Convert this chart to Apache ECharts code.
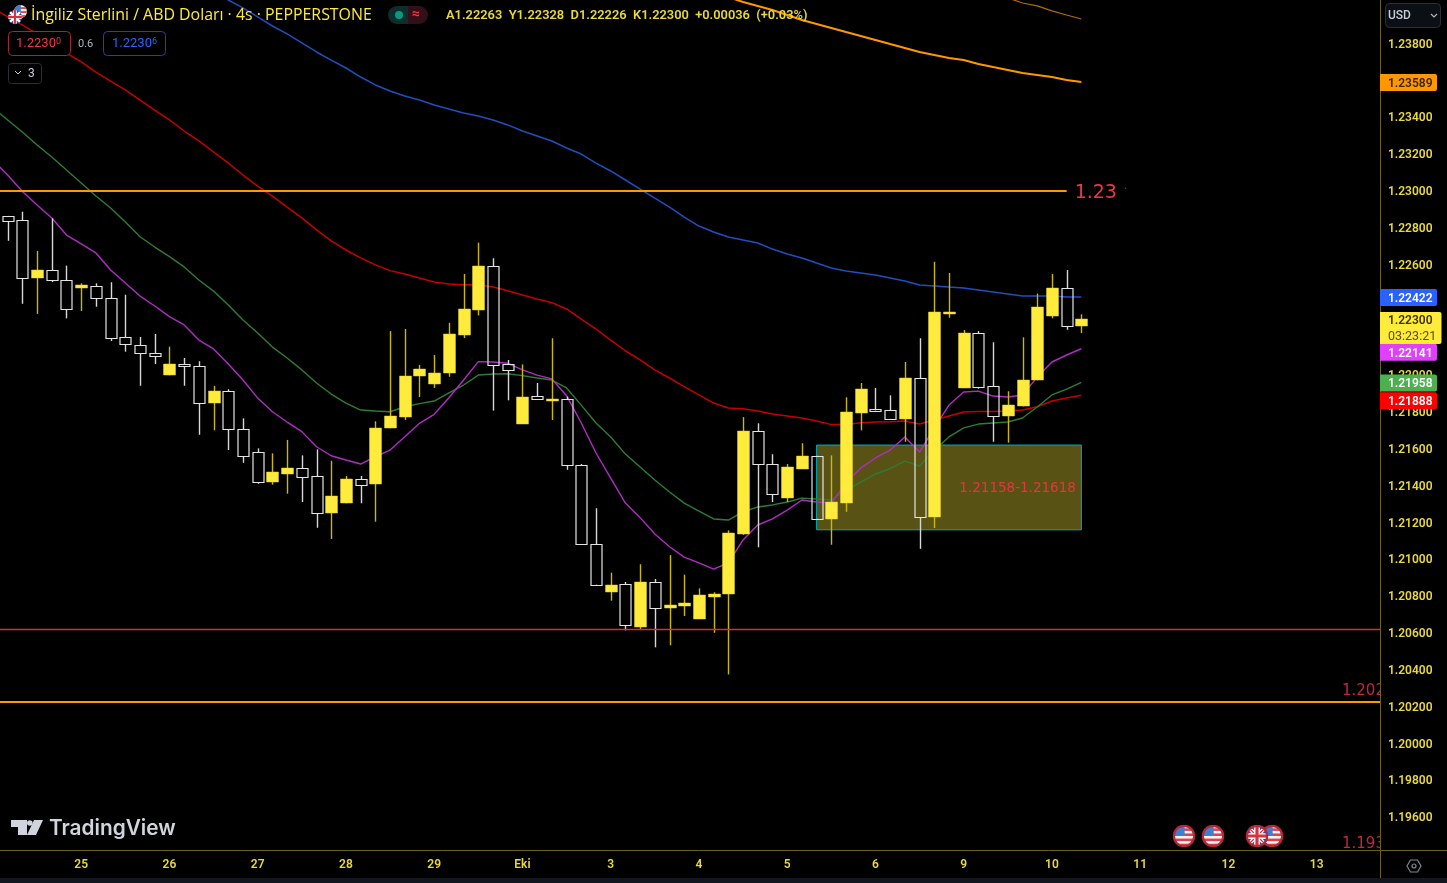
<!DOCTYPE html>
<html>
<head>
<meta charset="utf-8">
<title>GBPUSD 4s</title>
<script src="https://cdn.jsdelivr.net/npm/echarts@6/dist/echarts.min.js"></script>
<style>
  html, body { margin: 0; padding: 0; background: #000; overflow: hidden; }
  #main { width: 1447px; height: 883px; }
</style>
</head>
<body>
<div id="main"></div>
<script>
// candles, oldest first
const opens = [1.22862,1.22838,1.22527,1.22568,1.22512,1.22469,1.22483,1.22416,1.22203,1.22163,1.22118,1.21997,1.22056,1.22049,1.21845,1.2191,1.21705,1.21582,1.21416,1.21461,1.21492,1.21448,1.21248,1.21303,1.21435,1.21405,1.21709,1.2177,1.21991,1.21951,1.22008,1.22216,1.22351,1.2259,1.22056,1.21732,1.21883,1.21861,1.2187,1.21508,1.21081,1.20819,1.20862,1.20632,1.20873,1.20735,1.20744,1.20674,1.20795,1.20809,1.21135,1.21694,1.21515,1.21331,1.2149,1.2156,1.21218,1.21303,1.21794,1.21814,1.21807,1.2176,1.21982,1.21226,1.2233,1.21929,1.22225,1.21937,1.21777,1.21828,1.2197,1.22319,1.22472,1.22263]
const closes = [1.22836,1.22527,1.22568,1.22514,1.22358,1.22485,1.22415,1.22201,1.22167,1.22116,1.221,1.22056,1.22049,1.21845,1.2191,1.21705,1.21559,1.21416,1.2147,1.21493,1.21445,1.21248,1.21341,1.21435,1.21401,1.21713,1.21774,1.21995,1.22033,1.22011,1.22219,1.22355,1.22592,1.22054,1.22026,1.21881,1.21866,1.2187,1.21508,1.21081,1.2086,1.20857,1.2064,1.20873,1.20735,1.2075,1.20761,1.20804,1.20811,1.21139,1.21696,1.21514,1.21351,1.21499,1.2156,1.21218,1.21307,1.21798,1.21921,1.21805,1.2176,1.21984,1.21226,1.22339,1.22339,1.22225,1.21935,1.21777,1.21836,1.21971,1.22366,1.22472,1.22263,1.223]
const lows = [1.22727,1.22385,1.2233,1.22503,1.22306,1.22346,1.22369,1.22183,1.22125,1.2194,1.22058,1.21997,1.2194,1.21674,1.21698,1.21591,1.21522,1.21408,1.21403,1.21354,1.21309,1.21169,1.21108,1.21302,1.21302,1.21202,1.21709,1.21754,1.21879,1.21928,1.21989,1.22199,1.22322,1.21805,1.21861,1.21732,1.21866,1.21754,1.21484,1.21081,1.2086,1.20773,1.20612,1.20619,1.2052,1.20531,1.2069,1.20674,1.20599,1.20373,1.2113,1.21063,1.21309,1.21309,1.2149,1.21218,1.21077,1.21256,1.21698,1.21805,1.2176,1.21636,1.21055,1.21168,1.22309,1.21929,1.21924,1.21636,1.21631,1.21828,1.2197,1.22306,1.22244,1.22226]
const highs = [1.22862,1.22885,1.22672,1.22849,1.22592,1.22496,1.22496,1.22502,1.22434,1.22205,1.22221,1.22152,1.22091,1.22073,1.21939,1.21921,1.21763,1.216,1.21573,1.21646,1.21562,1.21595,1.21533,1.2145,1.2145,1.21747,1.22237,1.22248,1.22053,1.22107,1.22282,1.22547,1.22717,1.22632,1.2208,1.22056,1.21955,1.22198,1.21881,1.21515,1.21275,1.20925,1.20875,1.20971,1.20891,1.21021,1.20914,1.2084,1.20819,1.21155,1.2177,1.21736,1.21568,1.21515,1.21628,1.2156,1.21562,1.21877,1.21955,1.21928,1.21888,1.22069,1.22198,1.22613,1.22552,1.22243,1.22237,1.22176,1.2191,1.22203,1.2244,1.22547,1.22568,1.22328]

// moving averages; first value belongs to the bar just left of the screen
const emaPurple = [1.23166,1.23084,1.22995,1.22921,1.22851,1.22758,1.2271,1.22661,1.22568,1.22498,1.22427,1.22373,1.22315,1.2227,1.22188,1.2214,1.22058,1.21971,1.21873,1.21799,1.21743,1.21691,1.21609,1.2156,1.21537,1.21515,1.21555,1.21591,1.21663,1.21736,1.21785,1.21875,1.21971,1.22071,1.22069,1.22062,1.22026,1.21998,1.21977,1.21886,1.21738,1.21575,1.21439,1.21303,1.21224,1.21135,1.21066,1.2101,1.20978,1.20945,1.20978,1.21103,1.21184,1.21217,1.21265,1.2132,1.21309,1.21303,1.21412,1.21493,1.21548,1.21591,1.21662,1.2158,1.21711,1.21835,1.21906,1.21911,1.21884,1.21879,1.2189,1.21987,1.22069,1.22107,1.22141]
const emaGreen = [1.23448,1.23383,1.23318,1.23247,1.23182,1.23111,1.23041,1.2297,1.22905,1.22829,1.22749,1.22693,1.22641,1.22585,1.22514,1.22454,1.22378,1.22297,1.22226,1.2215,1.22091,1.22026,1.21955,1.21895,1.21846,1.21808,1.21803,1.21799,1.21826,1.21843,1.21857,1.21901,1.21944,1.21998,1.22004,1.22005,1.21995,1.21982,1.21971,1.21928,1.21835,1.21738,1.21662,1.21569,1.21499,1.21428,1.21363,1.21303,1.2126,1.21217,1.21211,1.21255,1.21282,1.21293,1.21309,1.2133,1.21325,1.2132,1.21374,1.21417,1.21461,1.2149,1.21531,1.21504,1.21591,1.21662,1.21711,1.21732,1.21738,1.21743,1.21765,1.21825,1.2189,1.21922,1.21958]
const emaRed = [1.23991,1.23942,1.23899,1.2385,1.23801,1.23746,1.23698,1.23643,1.23594,1.23546,1.23491,1.23437,1.23383,1.23323,1.23269,1.23209,1.23149,1.23084,1.23024,1.2297,1.2291,1.22851,1.22786,1.22726,1.22677,1.22634,1.22596,1.22565,1.22547,1.22525,1.22503,1.22492,1.22489,1.22489,1.22476,1.22456,1.22433,1.22411,1.22391,1.22357,1.22302,1.22248,1.22188,1.2213,1.2208,1.22026,1.21982,1.21935,1.2189,1.21846,1.21819,1.21815,1.21803,1.21787,1.21776,1.21765,1.21749,1.21729,1.21729,1.21739,1.21743,1.21745,1.21749,1.21732,1.21754,1.21776,1.21798,1.218,1.218,1.21803,1.21808,1.21826,1.21857,1.21873,1.21888]
const emaBlue = [null,null,null,null,null,null,null,null,null,null,null,null,null,null,null,1.24083,1.24034,1.23991,1.23942,1.23893,1.2385,1.23801,1.23752,1.23708,1.23665,1.23616,1.23573,1.2354,1.23513,1.23491,1.23464,1.23442,1.23421,1.23404,1.23383,1.23356,1.23323,1.23296,1.23269,1.23231,1.23198,1.23149,1.23106,1.23057,1.23008,1.22959,1.2291,1.22856,1.22807,1.22775,1.22748,1.22731,1.22715,1.22682,1.22655,1.22634,1.22606,1.22579,1.22563,1.22552,1.22541,1.22525,1.22509,1.22487,1.22482,1.22476,1.22471,1.2246,1.22449,1.22438,1.22427,1.22427,1.22427,1.22422,1.22422]
const emaOrangeTail = [1.2405,1.24023,1.24002,1.2398,1.23953,1.23926,1.23904,1.23882,1.2386,1.23839,1.23817,1.23795,1.23774,1.23752,1.23736,1.23719,1.23708,1.23687,1.2367,1.23654,1.23638,1.23627,1.23616,1.236,1.23589]
const emaDarkOrangeTail = [1.24045,1.24018,1.24002,1.23975,1.23953,1.23931]

const dayLabels = ['25','26','27','28','29','Eki','3','4','5','6','9','10','11','12','13']
const yTicks = [1.196,1.198,1.2,1.202,1.204,1.206,1.208,1.21,1.212,1.214,1.216,1.218,1.22,1.222,1.224,1.226,1.228,1.23,1.232,1.234,1.236,1.238]

// drawn levels and the zone
const levelTop = 1.23
const levelSupport = 1.20617
const levelBottom = 1.20225
const zoneHigh = 1.21618
const zoneLow = 1.21158

// price tags on the axis
const tagValues = [1.23589, 1.22422, 1.22141, 1.21958, 1.21888]
const tagColors = ['#ff9800', '#2962ff', '#e040fb', '#4caf50', '#ff0000']
const lastPrice = 1.223

const BAR_COUNT = 96
const YELLOW = '#ffeb3b'
const TEXT = '#e8d83a'
const AXIS = '#6e6118'
const RED_TEXT = '#f23645'

// one empty bar at the start so the averages run off the left edge
const categories = []
for (let i = 0; i < BAR_COUNT; i++) categories.push('')
dayLabels.forEach((d, k) => { categories[6 + k * 6] = d })

const candleData = opens.map((o, i) => [i + 1, o, closes[i], lows[i], highs[i]])
const padTo = (tail, total) => new Array(total - tail.length).fill(null).concat(tail)

function renderCandle (params, api) {
  const idx = api.value(0)
  const o = api.value(1), c = api.value(2)
  const up = c >= o
  const x = Math.round(api.coord([idx, o])[0])
  const top = Math.round(api.coord([idx, Math.max(o, c)])[1])
  const bot = Math.round(api.coord([idx, Math.min(o, c)])[1])
  const hi = api.coord([idx, api.value(4)])[1]
  const lo = api.coord([idx, api.value(3)])[1]
  const wick = up ? '#cdb800' : '#d8d8d8'
  const body = up
    ? { x: x - 5.5, y: top, width: 12, height: Math.max(bot - top, 2) }
    : { x: x - 5, y: top + 0.5, width: 11, height: Math.max(bot - top, 1) }
  return {
    type: 'group',
    children: [
      { type: 'line', shape: { x1: x + 0.5, y1: hi, x2: x + 0.5, y2: top }, style: { stroke: wick, lineWidth: 1.4 } },
      { type: 'line', shape: { x1: x + 0.5, y1: bot, x2: x + 0.5, y2: lo }, style: { stroke: wick, lineWidth: 1.4 } },
      {
        type: 'rect',
        shape: body,
        style: up ? { fill: YELLOW, stroke: '#e0cf30', lineWidth: 0.5 } : { fill: 'none', stroke: '#e4e4e4', lineWidth: 1.2 }
      }
    ]
  }
}

function emaLine (name, values, color, width) {
  return {
    name: name,
    type: 'line',
    data: values,
    showSymbol: false,
    symbol: 'none',
    silent: true,
    z: 2,
    lineStyle: { color: color, width: width },
    connectNulls: false
  }
}

const option = {
  backgroundColor: '#000',
  animation: false,
  // 14.7px per bar, the grid starts one bar left of the screen and ends behind the axis pane
  grid: { outerBoundsMode: 'none', left: -14.4, width: BAR_COUNT * 14.708, top: 0, height: 850 },
  xAxis: {
    type: 'category',
    data: categories,
    z: 20,
    axisLine: { lineStyle: { color: AXIS, width: 1 } },
    axisTick: { show: false },
    splitLine: { show: false },
    axisLabel: { interval: 0, color: TEXT, fontFamily: 'Roboto', fontSize: 12, fontWeight: 600, margin: 9 }
  },
  yAxis: {
    type: 'value',
    position: 'right',
    offset: -17.6,
    z: 20,
    min: 1.194197,
    max: 1.240342,
    axisLine: { show: true, lineStyle: { color: AXIS, width: 1 } },
    axisTick: { show: false },
    splitLine: { show: false },
    axisLabel: {
      customValues: yTicks,
      margin: 8,
      formatter: v => '{p|' + v.toFixed(5) + '}',
      rich: {
        p: { color: TEXT, fontFamily: 'Roboto', fontSize: 12, fontWeight: 600, padding: [3, 0, 0, 0] }
      }
    }
  },
  series: [
    emaLine('darkOrange', padTo(emaDarkOrangeTail, 75), '#b36b00', 1.2),
    emaLine('orange', padTo(emaOrangeTail, 75), '#ff9800', 2),
    emaLine('blue', emaBlue, '#1e4fc0', 1.5),
    emaLine('red', emaRed, '#c60000', 1.5),
    emaLine('green', emaGreen, '#2e7d32', 1.4),
    emaLine('purple', emaPurple, '#b02cc4', 1.4),
    {
      name: 'levels',
      type: 'line',
      data: [],
      z: 3,
      markLine: {
        silent: true,
        symbol: 'none',
        animation: false,
        precision: 5,
        label: { show: false },
        data: [
          [
            { xAxis: 0, yAxis: levelTop, lineStyle: { color: '#ff9800', width: 2, type: 'solid' } },
            {
              xAxis: 73,
              yAxis: levelTop,
              label: { show: true, position: 'end', formatter: '1.23', color: RED_TEXT, fontSize: 19, fontFamily: 'DejaVu Sans', distance: 8, offset: [0, 2.5] }
            }
          ],
          [
            { xAxis: 0, yAxis: levelSupport, lineStyle: { color: '#d32f3f', width: 1.4, type: 'solid' } },
            { xAxis: 95, yAxis: levelSupport }
          ],
          [
            { xAxis: 0, yAxis: levelBottom, lineStyle: { color: '#ff9800', width: 2, type: 'solid' } },
            { xAxis: 95, yAxis: levelBottom }
          ]
        ]
      }
    },
    {
      name: 'candles',
      type: 'custom',
      renderItem: renderCandle,
      encode: { x: 0, y: [1, 2, 3, 4] },
      data: candleData,
      clip: true,
      z: 4,
      silent: true
    },
    {
      name: 'zone',
      type: 'line',
      data: [],
      z: 5,
      markArea: {
        silent: true,
        animation: false,
        precision: 5,
        itemStyle: { color: 'rgba(255,235,59,0.35)', borderColor: '#00acc1', borderWidth: 1 },
        label: {
          show: true,
          position: 'insideRight',
          distance: 6,
          offset: [0, 1],
          formatter: zoneLow + '-' + zoneHigh,
          color: '#e8343f',
          fontSize: 13.5,
          fontFamily: 'DejaVu Sans'
        },
        data: [[{ xAxis: 56, yAxis: zoneHigh }, { xAxis: 74, yAxis: zoneLow }]]
      }
    }
  ]
}

const myChart = echarts.init(document.getElementById('main'))
myChart.setOption(option)

function svgImage (svg) {
  return 'data:image/svg+xml;charset=utf-8,' + encodeURIComponent(svg)
}

const usFlag = svgImage('<svg xmlns="http://www.w3.org/2000/svg" width="36" height="36" viewBox="0 0 36 36"><defs><clipPath id="c"><circle cx="18" cy="18" r="15"/></clipPath></defs><g clip-path="url(#c)"><rect width="36" height="36" fill="#f4f4f4"/><rect y="6" width="36" height="4" fill="#e0424d"/><rect y="14" width="36" height="4" fill="#e0424d"/><rect y="22" width="36" height="4" fill="#e0424d"/><rect y="30" width="36" height="4" fill="#e0424d"/><rect width="19" height="18" fill="#3d7fd0"/></g><circle cx="18" cy="18" r="16" fill="none" stroke="#b5283a" stroke-width="3.5"/></svg>')
const gbFlag = svgImage('<svg xmlns="http://www.w3.org/2000/svg" width="36" height="36" viewBox="0 0 36 36"><defs><clipPath id="c"><circle cx="18" cy="18" r="15"/></clipPath></defs><g clip-path="url(#c)"><rect width="36" height="36" fill="#2b4a9e"/><path d="M0 0L36 36M36 0L0 36" stroke="#fff" stroke-width="6"/><path d="M0 0L36 36M36 0L0 36" stroke="#d8323f" stroke-width="2"/><path d="M18 0V36M0 18H36" stroke="#fff" stroke-width="9"/><path d="M18 0V36M0 18H36" stroke="#d8323f" stroke-width="5"/></g><circle cx="18" cy="18" r="16" fill="none" stroke="#b5283a" stroke-width="3.5"/></svg>')
const plainUs = svgImage('<svg xmlns="http://www.w3.org/2000/svg" width="36" height="36" viewBox="0 0 36 36"><defs><clipPath id="c"><circle cx="18" cy="18" r="18"/></clipPath></defs><g clip-path="url(#c)"><rect width="36" height="36" fill="#f4f4f4"/><rect y="6" width="36" height="5" fill="#e0424d"/><rect y="17" width="36" height="5" fill="#e0424d"/><rect y="28" width="36" height="5" fill="#e0424d"/><rect width="19" height="18" fill="#3d7fd0"/></g></svg>')
const plainGb = svgImage('<svg xmlns="http://www.w3.org/2000/svg" width="36" height="36" viewBox="0 0 36 36"><defs><clipPath id="c"><circle cx="18" cy="18" r="18"/></clipPath></defs><g clip-path="url(#c)"><rect width="36" height="36" fill="#2b4a9e"/><path d="M0 0L36 36M36 0L0 36" stroke="#fff" stroke-width="6"/><path d="M18 0V36M0 18H36" stroke="#fff" stroke-width="9"/><path d="M18 0V36M0 18H36" stroke="#d8323f" stroke-width="5"/></g></svg>')

function txt (text, x, y, color, size, extra, z) {
  return {
    type: 'text',
    z: z || 40,
    silent: true,
    style: Object.assign({
      text: text, x: x, y: y, fill: color, fontSize: size, fontFamily: 'Roboto',
      textAlign: 'left', textVerticalAlign: 'middle'
    }, extra || {})
  }
}

function box (x, y, w, h, stroke, r, fill) {
  return {
    type: 'rect',
    z: 39,
    silent: true,
    shape: { x: x + 0.5, y: y + 0.5, width: w, height: h, r: r },
    style: { fill: fill || '#000', stroke: stroke, lineWidth: 1 }
  }
}

function priceTag (value, color, dy, textColor) {
  const y = myChart.convertToPixel({ yAxisIndex: 0 }, value) + dy
  return [
    { type: 'rect', z: 30, silent: true, shape: { x: 1380, y: y - 8.5, width: 57, height: 17, r: [0, 2, 2, 0] }, style: { fill: color } },
    txt(value.toFixed(5), 1388, y + 1.5, textColor, 12, { fontWeight: 600 }, 31)
  ]
}

const toY = v => myChart.convertToPixel({ yAxisIndex: 0 }, v)
const lastY = toY(lastPrice)

const graphics = [
  // clipped level names, then the black axis pane over them
  txt('1.202', 1342, toY(levelBottom) - 10.5, '#c5263a', 15, { fontFamily: 'DejaVu Sans' }, 8),
  txt('1.193', 1342, 844.5, '#c5263a', 15, { fontFamily: 'DejaVu Sans' }, 8),
  txt('.', 1124, 186, '#b3262e', 12, null, 8),
  { type: 'rect', z: 10, silent: true, shape: { x: 1381, y: 0, width: 66, height: 878 }, style: { fill: '#000' } },
  { type: 'rect', z: 10, silent: true, shape: { x: 0, y: 878, width: 1447, height: 5 }, style: { fill: '#11161f' } },
  { type: 'line', z: 21, silent: true, shape: { x1: 1380, y1: 850.5, x2: 1447, y2: 850.5 }, style: { stroke: AXIS, lineWidth: 1 } },
  { type: 'line', z: 21, silent: true, shape: { x1: 1380.5, y1: 850, x2: 1380.5, y2: 878 }, style: { stroke: AXIS, lineWidth: 1 } },

  // currency selector
  box(1385, 3, 55, 24, '#2a2e39', 4, '#0b0f16'),
  txt('USD', 1388, 15.5, '#c8ccd6', 12, { fontWeight: 500 }),
  { type: 'polyline', z: 40, silent: true, shape: { points: [[1431, 14], [1434, 17], [1437, 14]] }, style: { stroke: '#b2b5be', fill: 'none', lineWidth: 1.2 } },

  // header
  { type: 'image', z: 40, silent: true, style: { image: plainUs, x: 14, y: 5, width: 13, height: 13 } },
  { type: 'image', z: 41, silent: true, style: { image: plainGb, x: 8, y: 10, width: 14, height: 14 } },
  txt('İngiliz Sterlini / ABD Doları · 4s · PEPPERSTONE', 31, 15, YELLOW, 15.9, { fontFamily: 'Open Sans', fontWeight: 500 }),
  { type: 'rect', z: 39, silent: true, shape: { x: 388, y: 6, width: 20, height: 18, r: [9, 0, 0, 9] }, style: { fill: '#0c2f2c' } },
  { type: 'rect', z: 39, silent: true, shape: { x: 408, y: 6, width: 20, height: 18, r: [0, 9, 9, 0] }, style: { fill: '#331019' } },
  { type: 'circle', z: 40, silent: true, shape: { cx: 399, cy: 15, r: 4 }, style: { fill: '#089981' } },
  txt('≈', 412, 14.5, '#f23645', 14, { fontWeight: 700 }),
  txt('A1.22263  Y1.22328  D1.22226  K1.22300  +0.00036  (+0.03%)', 446, 15.5, TEXT, 12.85, { fontWeight: 600 }),

  // bid / ask boxes
  box(8, 31, 62, 24, '#9c2a3c', 4),
  {
    type: 'text', z: 40, silent: true,
    style: {
      text: '{a|1.2230}{b|0}', x: 16, y: 44, textVerticalAlign: 'middle',
      rich: { a: { fill: '#f23645', fontSize: 13, fontFamily: 'Roboto' }, b: { fill: '#f23645', fontSize: 9, fontFamily: 'Roboto', padding: [0, 0, 4, 0] } }
    }
  },
  txt('0.6', 78, 44, '#b2b5be', 11),
  box(103, 31, 62, 24, '#24439c', 4),
  {
    type: 'text', z: 40, silent: true,
    style: {
      text: '{a|1.2230}{b|6}', x: 112, y: 44, textVerticalAlign: 'middle',
      rich: { a: { fill: '#2962ff', fontSize: 13, fontFamily: 'Roboto' }, b: { fill: '#2962ff', fontSize: 9, fontFamily: 'Roboto', padding: [0, 0, 4, 0] } }
    }
  },
  box(8, 63, 33, 20, '#2a2e39', 3),
  { type: 'polyline', z: 40, silent: true, shape: { points: [[15, 71], [18, 74], [21, 71]] }, style: { stroke: '#c8ccd6', fill: 'none', lineWidth: 1 } },
  txt('3', 28, 73.5, '#c8ccd6', 12),

  // watermark
  { type: 'polygon', z: 40, silent: true, shape: { points: [[11, 820], [27, 820], [27, 835], [18, 835], [18, 827], [11, 827]] }, style: { fill: '#d1d4dc' } },
  { type: 'circle', z: 40, silent: true, shape: { cx: 29.8, cy: 823, r: 2.8 }, style: { fill: '#d1d4dc' } },
  { type: 'polygon', z: 40, silent: true, shape: { points: [[34, 820], [43, 820], [36, 835], [27, 835]] }, style: { fill: '#d1d4dc' } },
  txt('TradingView', 49, 828.5, '#d1d4dc', 20.8, { fontFamily: 'Inter', fontWeight: 600 }),

  // calendar flags
  { type: 'image', z: 40, silent: true, style: { image: usFlag, x: 1172.5, y: 824.5, width: 23, height: 23 } },
  { type: 'image', z: 40, silent: true, style: { image: usFlag, x: 1201.5, y: 824.5, width: 23, height: 23 } },
  { type: 'image', z: 40, silent: true, style: { image: usFlag, x: 1260.5, y: 824.5, width: 23, height: 23 } },
  { type: 'image', z: 41, silent: true, style: { image: gbFlag, x: 1245.5, y: 824.5, width: 23, height: 23 } },

  // settings icon
  { type: 'polygon', z: 40, silent: true, shape: { points: [[1407, 866], [1410.5, 860], [1417.5, 860], [1421, 866], [1417.5, 872], [1410.5, 872]] }, style: { stroke: '#808590', fill: 'none', lineWidth: 1.2 } },
  { type: 'circle', z: 40, silent: true, shape: { cx: 1414, cy: 866, r: 2 }, style: { stroke: '#808590', fill: 'none', lineWidth: 1.2 } },

  // last price tag with the countdown
  { type: 'rect', z: 32, silent: true, shape: { x: 1380, y: lastY - 7.5, width: 61.5, height: 32, r: [0, 2, 2, 0] }, style: { fill: YELLOW } },
  txt(lastPrice.toFixed(5), 1388, lastY + 2, '#3c3606', 12, { fontWeight: 600 }, 33),
  txt('03:23:21', 1388, lastY + 17.5, '#57500f', 12.5, null, 33)
]

const tagShift = [0.5, 0.5, 3.5, 0.5, 5.5]
const tagText = ['#3c2400', '#fff', '#fff', '#fff', '#fff']
tagValues.forEach((v, i) => { graphics.push(...priceTag(v, tagColors[i], tagShift[i], tagText[i])) })

myChart.setOption({ graphic: { elements: graphics } })
</script>
</body>
</html>
